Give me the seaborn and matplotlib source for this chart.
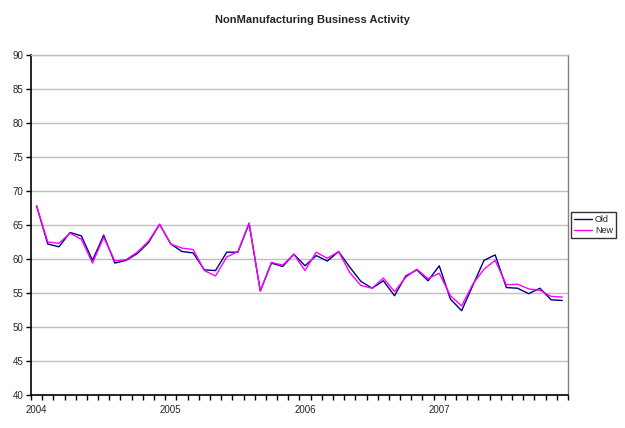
import numpy as np
import pandas as pd
import matplotlib
matplotlib.use("Agg")
import matplotlib.pyplot as plt
from matplotlib.ticker import FixedLocator
import seaborn as sns

# ---------------------------------- DATA ----------------------------------
months = pd.date_range("2004-01-01", periods=48, freq="MS")
year_labels = ["2004", "2005", "2006", "2007"]
y_ticks = [40, 45, 50, 55, 60, 65, 70, 75, 80, 85, 90]

old = [67.8, 62.2, 61.8, 63.9, 63.4, 59.8, 63.5, 59.4, 59.8, 60.8, 62.4, 65.1,
       62.2, 61.1, 60.9, 58.4, 58.3, 61.0, 61.0, 65.2, 55.3, 59.4, 58.9, 60.7,
       59.0, 60.5, 59.7, 61.1, 58.8, 56.7, 55.7, 56.8, 54.6, 57.5, 58.4, 56.8,
       59.0, 54.1, 52.4, 56.1, 59.8, 60.6, 55.8, 55.7, 54.9, 55.7, 54.0, 53.9]
new = [67.8, 62.5, 62.3, 63.8, 62.9, 59.4, 63.2, 59.7, 59.9, 61.0, 62.6, 65.1,
       62.2, 61.6, 61.4, 58.3, 57.5, 60.3, 61.1, 65.3, 55.3, 59.5, 59.1, 60.7,
       58.3, 61.0, 60.1, 61.1, 58.0, 56.1, 55.7, 57.2, 55.2, 57.3, 58.5, 57.1,
       57.9, 54.6, 53.1, 56.3, 58.5, 59.8, 56.2, 56.3, 55.6, 55.4, 54.5, 54.4]

series_names = ["Old", "New"]
series_colors = {"Old": "#000080", "New": "#FF00FF"}


def main():
    df = pd.DataFrame({"pos": np.arange(len(months)), "Old": old, "New": new})
    long_df = df.melt(id_vars="pos", value_vars=series_names, var_name="series", value_name="value")

    sns.set_style("white")
    plt.rcParams["font.family"] = ["Liberation Sans", "DejaVu Sans"]

    fig = plt.figure(figsize=(6.25, 4.28), dpi=100)
    ax = fig.add_axes([0.0496, 0.0771, 0.859, 0.7944])

    sns.lineplot(data=long_df, x="pos", y="value", hue="series", hue_order=series_names,
                 palette=series_colors, linewidth=1.0, ax=ax, legend=True)

    ax.set_xlim(-0.5, len(months) - 0.5)
    ax.set_ylim(40, 90)
    ax.set_yticks(y_ticks)
    ax.set_yticklabels([str(t) for t in y_ticks], fontsize=7)
    ax.yaxis.grid(True, color="#C0C0C0", linewidth=1.0)
    ax.set_axisbelow(True)

    # year labels under January, tick marks on month boundaries
    jan_pos = [i for i, m in enumerate(months) if m.month == 1]
    ax.set_xticks(jan_pos)
    ax.set_xticklabels(year_labels, fontsize=7)
    ax.tick_params(axis="x", which="major", length=0, pad=7)
    ax.xaxis.set_minor_locator(FixedLocator(np.arange(-0.5, len(months), 1.0)))
    ax.tick_params(axis="x", which="minor", length=3.5, width=1, color="black", direction="out", bottom=True)
    ax.tick_params(axis="y", length=3.5, width=1, color="black", direction="out", left=True, pad=2)

    ax.set_xlabel("")
    ax.set_ylabel("")
    ax.spines["top"].set_color("#C0C0C0")
    ax.spines["right"].set_color("#808080")
    for side in ["top", "right"]:
        ax.spines[side].set_linewidth(1.0)
    for side in ["left", "bottom"]:
        ax.spines[side].set_color("black")
        ax.spines[side].set_linewidth(1.2)

    leg = ax.legend(loc="center left", bbox_to_anchor=(1.006, 0.5), fontsize=6.5, frameon=True,
                    fancybox=False, edgecolor="black", handlelength=2.0, handletextpad=0.3,
                    borderpad=0.35, labelspacing=0.25, borderaxespad=0)
    leg.get_frame().set_linewidth(1.0)

    fig.text(0.5, 0.953, "NonManufacturing Business Activity", ha="center", va="center",
             fontsize=8, fontweight="bold")

    fig.savefig("out.png", dpi=100)


if __name__ == "__main__":
    main()
